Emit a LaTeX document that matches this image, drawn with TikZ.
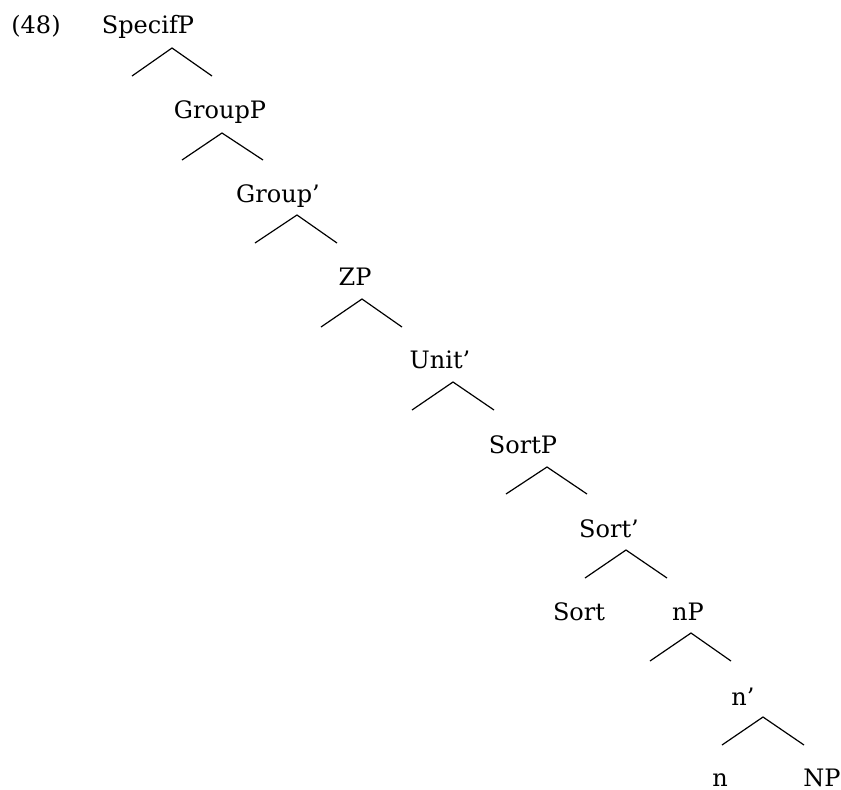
\documentclass[tikz,border=0pt]{standalone}
\usepackage{fontspec}
\setmainfont{DejaVu Serif}
\usepackage{tikz}

\tikzset{
    lbl/.style={anchor=base,inner sep=0pt,font=\fontsize{12}{14}\selectfont},
    branch/.style={black,line width=0.6pt}
}

\begin{document}
\begin{tikzpicture}[x=0.5pt,y=-0.5pt]
        \useasboundingbox (0,0) rectangle (841,789);
        % Example number
        \node[lbl](ex) at (36,33){(48)};
        % Labels
        \node[lbl](specifp) at (148,33){SpecifP};
        \node[lbl](groupp) at (220,118){GroupP};
        \node[lbl](groupbar) at (278,202){Group'};
        \node[lbl](zp) at (355,285){ZP};
        \node[lbl](unitbar) at (440,368){Unit'};
        \node[lbl](sortp) at (523,453){SortP};
        \node[lbl](sortbar) at (609,537){Sort'};
        \node[lbl](sort) at (579,620){Sort};
        \node[lbl](np) at (688,620){nP};
        \node[lbl](nbar) at (743,705){n'};
        \node[lbl](n) at (720,786){n};
        \node[lbl](NP) at (822,786){NP};
        % Branch points
        \coordinate(b1) at (172,48);  \coordinate(b1l) at (132,76);  \coordinate(b1r) at (212,76);
        \coordinate(b2) at (222,133); \coordinate(b2l) at (182,160); \coordinate(b2r) at (263,160);
        \coordinate(b3) at (297,215); \coordinate(b3l) at (255,243); \coordinate(b3r) at (337,243);
        \coordinate(b4) at (362,299); \coordinate(b4l) at (321,327); \coordinate(b4r) at (402,327);
        \coordinate(b5) at (453,382); \coordinate(b5l) at (412,410); \coordinate(b5r) at (494,410);
        \coordinate(b6) at (547,467); \coordinate(b6l) at (506,494); \coordinate(b6r) at (587,494);
        \coordinate(b7) at (626,550); \coordinate(b7l) at (585,578); \coordinate(b7r) at (667,578);
        \coordinate(b8) at (691,633); \coordinate(b8l) at (650,661); \coordinate(b8r) at (731,661);
        \coordinate(b9) at (763,717); \coordinate(b9l) at (722,745); \coordinate(b9r) at (804,745);
        % Branches
        \draw[branch](b1l)--(b1)--(b1r);
        \draw[branch](b2l)--(b2)--(b2r);
        \draw[branch](b3l)--(b3)--(b3r);
        \draw[branch](b4l)--(b4)--(b4r);
        \draw[branch](b5l)--(b5)--(b5r);
        \draw[branch](b6l)--(b6)--(b6r);
        \draw[branch](b7l)--(b7)--(b7r);
        \draw[branch](b8l)--(b8)--(b8r);
        \draw[branch](b9l)--(b9)--(b9r);
    \end{tikzpicture}
\end{document}
